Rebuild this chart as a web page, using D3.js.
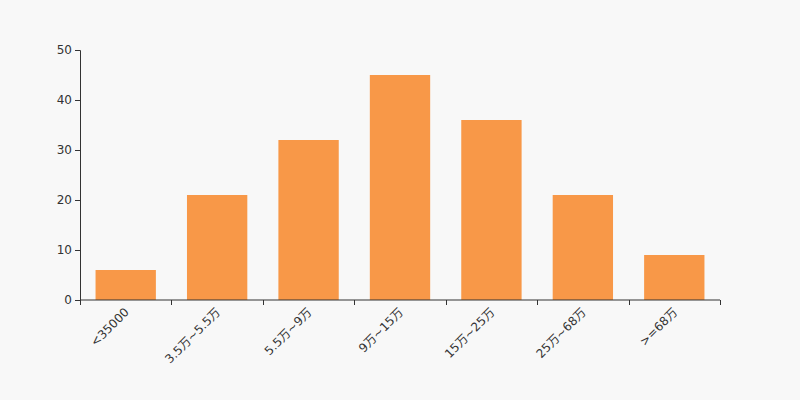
<!DOCTYPE html>
<html><head><meta charset="utf-8">
<script src="https://cdn.jsdelivr.net/npm/d3@7"></script>
<style>
body{margin:0;background:#f8f8f8;}
svg{display:block;}
text{font-family:"DejaVu Sans","Noto Sans CJK SC",sans-serif;}
</style></head>
<body><svg id="c" width="800" height="400"></svg>
<script>
const categories = ["<35000","3.5万~5.5万","5.5万~9万","9万~15万","15万~25万","25万~68万",">=68万"];
const values = [6, 21, 32, 45, 36, 21, 9];
const yTicks = [0, 10, 20, 30, 40, 50];

const svg = d3.select("#c");
const m = {left: 80, right: 80, top: 50, bottom: 100};
const W = 800, H = 400;
const x = d3.scaleBand().domain(categories).range([m.left, W - m.right]).paddingInner(0.34).paddingOuter(0.17);
const y = d3.scaleLinear().domain([0, 50]).range([H - m.bottom, m.top]);

svg.append("g").selectAll("rect").data(values).join("rect")
  .attr("x", (d, i) => x(categories[i]))
  .attr("width", x.bandwidth())
  .attr("y", d => y(d))
  .attr("height", d => y(0) - y(d))
  .attr("fill", "#f89848");

const axisColor = "#333";
// y axis
const gy = svg.append("g").attr("transform", `translate(${m.left},0)`)
  .call(d3.axisLeft(y).tickValues(yTicks).tickSize(5).tickPadding(3));
gy.selectAll("path,line").attr("stroke", axisColor);
gy.selectAll("text").attr("fill", axisColor).attr("font-size", 12);

// x axis
const gx = svg.append("g").attr("transform", `translate(0,${H - m.bottom})`);
gx.append("line").attr("x1", m.left).attr("x2", W - m.right).attr("stroke", axisColor);
const boundaries = d3.range(categories.length + 1).map(i => m.left + (W - m.left - m.right) * i / categories.length);
gx.selectAll("line.tk").data(boundaries).join("line").attr("class", "tk")
  .attr("x1", d => Math.round(d) + 0.5).attr("x2", d => Math.round(d) + 0.5)
  .attr("y1", 0).attr("y2", 5).attr("stroke", axisColor);
gx.selectAll("text").data(categories).join("text")
  .attr("transform", d => `translate(${x(d) + x.bandwidth() / 2 + 1},${10}) rotate(-45)`)
  .attr("text-anchor", "end")
  .attr("dy", "0.35em")
  .attr("font-size", 12)
  .attr("fill", axisColor)
  .text(d => d);
</script></body></html>
